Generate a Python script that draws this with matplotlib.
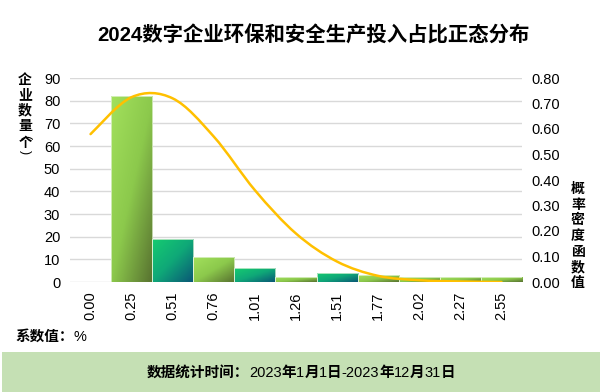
import numpy as np
import matplotlib as mpl
mpl.use('Agg')

import matplotlib.pyplot as plt
from matplotlib.colors import LinearSegmentedColormap
from matplotlib.path import Path
from matplotlib.patches import PathPatch, Rectangle
from matplotlib.offsetbox import TextArea, HPacker, AnnotationBbox
from matplotlib import transforms

plt.rcParams['font.family'] = ['Liberation Sans', 'Noto Sans CJK SC', 'DejaVu Sans']

# data
categories = ['0.00', '0.25', '0.51', '0.76', '1.01', '1.26', '1.51', '1.77', '2.02', '2.27', '2.55']
counts = [0, 82, 19, 11, 6, 2, 4, 3, 2, 2, 2]
density = [0.58, 0.725, 0.72, 0.57, 0.36, 0.19, 0.08, 0.024, 0.007, 0.002, 0.0]
bar_kind = ['green', 'green', 'teal', 'green', 'teal', 'green', 'teal', 'green', 'green', 'green', 'green']

title = '2024数字企业环保和安全生产投入占比正态分布'
left_label = '企业数量'
left_unit = '个'
right_label = '概率密度函数值'
unit_note = [('系数值：', 'bold'), ('%', 'normal')]
footer = [('数据统计时间：', 'bold'), ('2023', 'normal'), ('年', 'bold'), ('1', 'normal'),
          ('月', 'bold'), ('1', 'normal'), ('日', 'bold'), ('-2023', 'normal'), ('年', 'bold'),
          ('12', 'normal'), ('月', 'bold'), ('31', 'normal'), ('日', 'bold')]

cmaps = {
    'green': LinearSegmentedColormap.from_list('g', ['#a2e05c', '#8cc94c', '#587230']),
    'teal': LinearSegmentedColormap.from_list('t', ['#16cc70', '#0fa878', '#0a5676']),
}

fig = plt.figure(figsize=(6, 3.92), dpi=100)
ax = fig.add_axes([70/600, 1-282/392, 452/600, 204/392])
ax2 = ax.twinx()

x = np.arange(len(categories))
bars = ax.bar(x, counts, width=1.0, color='none', edgecolor='none', zorder=2)

# diagonal gradient inside each bar (top-left light, bottom-right dark)
g = np.linspace(0, 1, 48)
U, V = np.meshgrid(g, g)
shade = (U + (1 - V)) / 2
for b, kind in zip(bars, bar_kind):
    if b.get_height() <= 0:
        continue
    x0, w, h = b.get_x(), b.get_width(), b.get_height()
    im = ax.imshow(shade, extent=(x0, x0 + w, 0, h), origin='lower', cmap=cmaps[kind],
                   vmin=0, vmax=1, aspect='auto', interpolation='bilinear', zorder=2)
    im.set_clip_path(b)
    ax.add_patch(Rectangle((x0, 0), w, h, fill=False, edgecolor='#e8f5dc', lw=0.5, zorder=3))

ax.set_xlim(-0.5, len(categories) - 0.5)
ax.set_ylim(0, 90)
ax.set_yticks(range(0, 91, 10))
ax.set_xticks(x)
ax.set_xticklabels(categories, rotation=90, ha='center', va='top')
shift = transforms.ScaledTranslation(0.13, 0, fig.dpi_scale_trans)
for lbl in ax.get_xticklabels():
    lbl.set_transform(lbl.get_transform() + shift)
ax.yaxis.grid(True, color='#d9d9d9', lw=1.0)
ax.set_axisbelow(True)
ax.tick_params(axis='both', length=0, labelsize=10.5, pad=7)

# smoothed density line (Catmull-Rom through the read points)
pts = np.column_stack([x, density]).astype(float)
verts = [tuple(pts[0])]
codes = [Path.MOVETO]
n = len(pts)
for i in range(n - 1):
    p0 = pts[max(i - 1, 0)]
    p1 = pts[i]
    p2 = pts[i + 1]
    p3 = pts[min(i + 2, n - 1)]
    c1 = p1 + (p2 - p0) / 6
    c2 = p2 - (p3 - p1) / 6
    verts += [tuple(c1), tuple(c2), tuple(p2)]
    codes += [Path.CURVE4] * 3
ax2.add_patch(PathPatch(Path(verts, codes), facecolor='none', edgecolor='#ffc000',
                        lw=1.8, capstyle='round', zorder=4))
ax2.set_ylim(0, 0.8)
ax2.set_yticks(np.arange(0, 0.81, 0.1))
ax2.yaxis.set_major_formatter(lambda v, pos: '{:.2f}'.format(v))
ax2.tick_params(axis='y', length=0, labelsize=10.5, pad=7)

for a in (ax, ax2):
    for s in a.spines.values():
        s.set_visible(False)

fig.text(313/600, 1-35/392, title, ha='center', va='center', fontsize=14.7, fontweight='bold')

# left axis title: stacked characters, unit with turned brackets
fig.text(25/600, 1-73/392, '\n'.join(left_label), ha='center', va='top',
         fontsize=10, fontweight='bold', linespacing=1.12)
fig.text(25/600, 1-137/392, '(', ha='center', va='center', fontsize=9, rotation=-90)
fig.text(25/600, 1-144/392, left_unit, ha='center', va='center', fontsize=9.5, fontweight='bold')
fig.text(25/600, 1-152/392, ')', ha='center', va='center', fontsize=9, rotation=-90)

fig.text(578/600, 1-236/392, '\n'.join(right_label), ha='center', va='center',
         fontsize=10, fontweight='bold', linespacing=1.15)

def packed(parts, size):
    return HPacker(children=[TextArea(t, textprops=dict(fontsize=size, fontweight=wt))
                             for t, wt in parts], align='baseline', pad=0, sep=0)

fig.add_artist(AnnotationBbox(packed(unit_note, 10.5), (15/600, 1-337/392), xycoords='figure fraction',
                              box_alignment=(0, 0.5), frameon=False))

fig.patches.append(Rectangle((2/600, 0), 598/600, 40/392, transform=fig.transFigure,
                             facecolor='#c5e0b4', edgecolor='none', zorder=0))
fig.add_artist(AnnotationBbox(packed(footer, 10.5), (301/600, 1-373/392), xycoords='figure fraction',
                              box_alignment=(0.5, 0.5), frameon=False))

fig.savefig('out.png', dpi=100)
